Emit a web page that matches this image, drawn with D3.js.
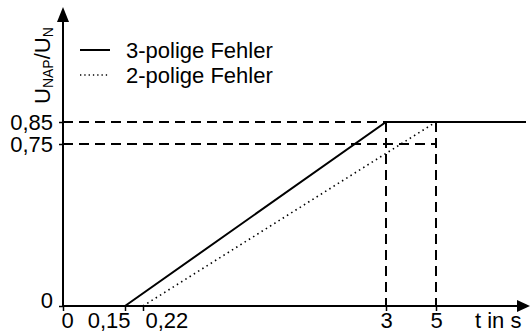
<!DOCTYPE html>
<html lang="de">
<head>
    <meta charset="UTF-8">
    <title>U_NAP/U_N</title>
    <script src="https://d3js.org/d3.v7.min.js"></script>
    <style>
        body { margin: 0; background: #fff; }
        svg { font-family: "Liberation Sans", Arial, sans-serif; }
        .axis text { font-size: 22px; fill: #000; }
        .guide { stroke: #000; stroke-width: 2; stroke-dasharray: 10,6; fill: none; }
    </style>
</head>
<body>
<script>
    const width  = 530;
    const height = 332;

    // schematic time axis (not to scale)
    const xTicks      = [0, 0.15, 0.22, 3, 5];
    const xTickLabels = ["0", "0,15", "0,22", "3", "5"];
    const yTicks      = [0, 0.75, 0.85];
    const yTickLabels = ["0", "0,75", "0,85"];

    // U_NAP/U_N over t
    const tPole3 = [0.15, 3, 6];
    const uPole3 = [0, 0.85, 0.85];
    const tPole2 = [0.22, 5];
    const uPole2 = [0, 0.85];

    const legendLabels = ["3-polige Fehler", "2-polige Fehler"];

    const x = d3.scaleLinear()
                .domain([0, 0.15, 0.22, 3, 5, 6])
                .range([63, 125, 143, 386, 436, 526]);
    const y = d3.scaleLinear()
                .domain([0, 0.75, 0.85])
                .range([306, 144, 122]);

    const svg = d3.select("body").append("svg").attr("width", width).attr("height", height);

    // guide lines
    svg.append("path").attr("class", "guide")
       .attr("d", `M${x(0)},${y(0.85)}H${x(3)}M${x(0)},${y(0.75)}H${x(5)}`);
    svg.append("path").attr("class", "guide")
       .attr("d", `M${x(3)},${y(0.85)}V${y(0)}M${x(5)},${y(0.85)}V${y(0)}`);

    // axes
    const xAxis = svg.append("g").attr("class", "axis")
        .attr("transform", `translate(0,${y(0)})`)
        .call(d3.axisBottom(x).tickValues(xTicks).tickSize(5)
                .tickFormat((d, i) => xTickLabels[i]));
    xAxis.select(".domain").remove();
    xAxis.selectAll(".tick line").attr("stroke-width", 1.5);
    xAxis.selectAll(".tick text").attr("y", 22).attr("dy", 0)
         .attr("text-anchor", d => d === 0.15 ? "end" : d === 0.22 ? "start" : "middle")
         .attr("dx", d => d === 0.15 ? 5 : d === 0.22 ? 2 : d === 0 ? 4 : 0);

    const yAxis = svg.append("g").attr("class", "axis")
        .attr("transform", `translate(${x(0)},0)`)
        .call(d3.axisLeft(y).tickValues(yTicks).tickSize(4)
                .tickFormat((d, i) => yTickLabels[i]));
    yAxis.select(".domain").remove();
    yAxis.selectAll(".tick line").attr("stroke-width", 1.5);
    yAxis.selectAll(".tick text").attr("x", -10).attr("dy", d => d === 0 ? "0.05em" : "0.35em");

    // axis lines with arrows
    svg.append("line").attr("x1", x(0)).attr("x2", 522).attr("y1", y(0)).attr("y2", y(0))
       .attr("stroke", "#000").attr("stroke-width", 2);
    svg.append("path").attr("d", `M530,${y(0)}L517,${y(0) - 6}L517,${y(0) + 6}Z`).attr("fill", "#000");
    svg.append("line").attr("x1", x(0)).attr("x2", x(0)).attr("y1", y(0) + 1).attr("y2", 16)
       .attr("stroke", "#000").attr("stroke-width", 2);
    svg.append("path").attr("d", `M${x(0)},7L${x(0) - 6},22L${x(0) + 6},22Z`).attr("fill", "#000");

    // curves
    const line = d3.line().x(d => x(d[0])).y(d => y(d[1]));
    svg.append("path").datum(d3.zip(tPole2, uPole2)).attr("d", line)
       .attr("fill", "none").attr("stroke", "#000").attr("stroke-width", 1.6)
       .attr("stroke-dasharray", "1.5,3.5");
    svg.append("path").datum(d3.zip(tPole3, uPole3)).attr("d", line)
       .attr("fill", "none").attr("stroke", "#000").attr("stroke-width", 2);

    // axis titles
    svg.append("text").attr("x", 475).attr("y", 328).attr("font-size", 22).text("t in s");

    const ylab = svg.append("text").attr("transform", "translate(50,104) rotate(-90)")
                    .attr("font-size", 22);
    ylab.append("tspan").text("U");
    ylab.append("tspan").attr("font-size", 14).attr("dy", 3).text("NAP");
    ylab.append("tspan").attr("dy", -3).text("/U");
    ylab.append("tspan").attr("font-size", 14).attr("dy", 3).text("N");

    // legend
    const legend = svg.selectAll("g.legend").data(legendLabels).join("g").attr("class", "legend")
        .attr("transform", (d, i) => `translate(80,${50 + i * 25})`);
    legend.append("line").attr("x1", 0).attr("x2", 30).attr("y1", 0).attr("y2", 0)
          .attr("stroke", "#000")
          .attr("stroke-width", (d, i) => i === 0 ? 2 : 1.3)
          .attr("stroke-dasharray", (d, i) => i === 0 ? null : "1.3,3");
    legend.append("text").attr("x", 46).attr("y", 8).attr("font-size", 22).text(d => d);
</script>
</body>
</html>
